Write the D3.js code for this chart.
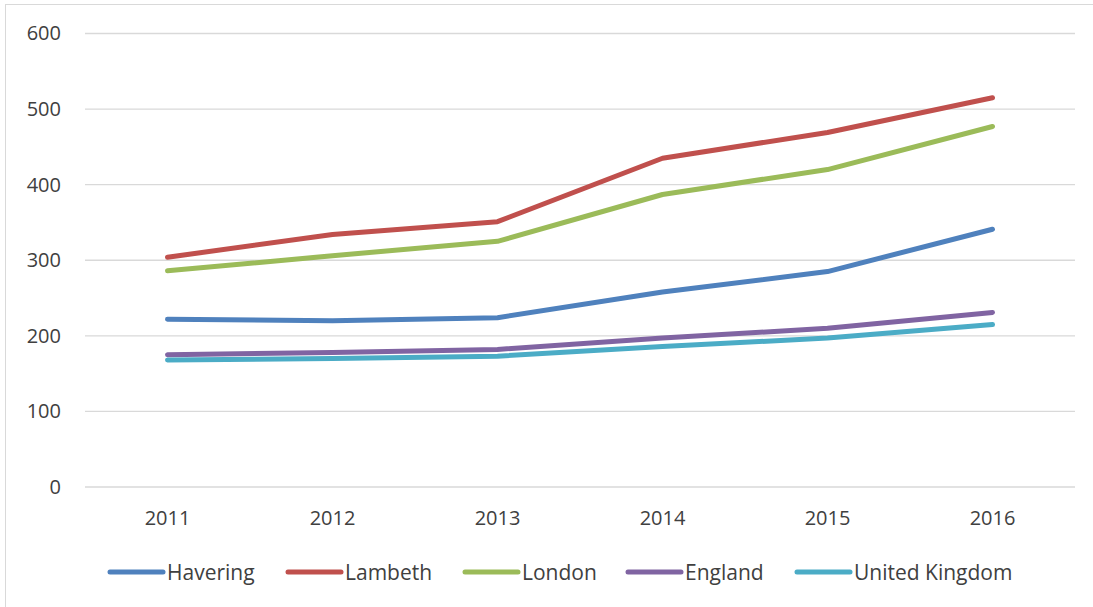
<!DOCTYPE html>
<html>
<head>
<meta charset="utf-8">
<script src="https://cdn.jsdelivr.net/npm/d3@7"></script>
<style>
  body { margin: 0; background: #fff; }
  text { font-family: 'Open Sans', sans-serif; fill: #404040; }
</style>
</head>
<body>
<div id="main"></div>
<script>
var years = ['2011', '2012', '2013', '2014', '2015', '2016'];
var havering = [222, 220, 224, 258, 285, 341];
var lambeth = [304, 334, 351, 435, 469, 515];
var london = [286, 306, 325, 387, 420, 477];
var england = [175, 178, 182, 197, 210, 231];
var unitedKingdom = [168, 170, 173, 186, 197, 215];
var yTicks = [0, 100, 200, 300, 400, 500, 600];

var series = [
    {name: 'Havering', values: havering, color: '#4f81bd'},
    {name: 'Lambeth', values: lambeth, color: '#c0504d'},
    {name: 'London', values: london, color: '#9bbb59'},
    {name: 'England', values: england, color: '#8064a2'},
    {name: 'United Kingdom', values: unitedKingdom, color: '#4bacc6'}
];

var width = 1093, height = 607;
var margin = {top: 33.5, bottom: 120, left: 85, right: 18};

var svg = d3.select('#main').append('svg')
    .attr('width', width)
    .attr('height', height);

// outer chart border
svg.append('rect')
    .attr('x', 5.5).attr('y', 4.5)
    .attr('width', width - 5).attr('height', height - 3)
    .attr('fill', 'none')
    .attr('stroke', '#d9d9d9');

var x = d3.scaleBand()
    .domain(years)
    .range([margin.left, width - margin.right]);
var y = d3.scaleLinear()
    .domain([0, 600])
    .range([height - margin.bottom, margin.top]);

// gridlines
svg.append('g')
    .selectAll('line')
    .data(yTicks)
    .enter()
    .append('line')
    .attr('x1', margin.left)
    .attr('x2', width - margin.right)
    .attr('y1', d => y(d))
    .attr('y2', d => y(d))
    .attr('stroke', '#d9d9d9')
    .attr('stroke-width', 1.3);

var yAxis = svg.append('g')
    .attr('transform', 'translate(' + (margin.left - 24) + ',0)')
    .call(d3.axisLeft(y).tickValues(yTicks).tickSize(0).tickPadding(0));
yAxis.select('.domain').remove();
yAxis.selectAll('text')
    .style('font-size', '20px')
    .style('fill', '#404040');

var xAxis = svg.append('g')
    .attr('transform', 'translate(0,' + (height - margin.bottom) + ')')
    .call(d3.axisBottom(x).tickSize(0).tickPadding(24));
xAxis.select('.domain').remove();
xAxis.selectAll('text')
    .style('font-size', '20px')
    .style('fill', '#404040');

var line = d3.line()
    .x((d, i) => x(years[i]) + x.bandwidth() / 2)
    .y(d => y(d));

svg.append('g')
    .selectAll('path')
    .data(series)
    .enter()
    .append('path')
    .attr('d', d => line(d.values))
    .attr('fill', 'none')
    .attr('stroke', d => d.color)
    .attr('stroke-width', 5)
    .attr('stroke-linecap', 'round')
    .attr('stroke-linejoin', 'round');

// legend
var legendX = [108, 286, 463, 626, 795];
var legend = svg.append('g')
    .selectAll('g')
    .data(series)
    .enter()
    .append('g')
    .attr('transform', (d, i) => 'translate(' + legendX[i] + ',572)');

legend.append('line')
    .attr('x1', 2).attr('x2', 55)
    .attr('y1', 0).attr('y2', 0)
    .attr('stroke', d => d.color)
    .attr('stroke-width', 5)
    .attr('stroke-linecap', 'round');

legend.append('text')
    .attr('x', 59)
    .attr('y', 7.5)
    .style('font-size', '21px')
    .text(d => d.name);
</script>
</body>
</html>
